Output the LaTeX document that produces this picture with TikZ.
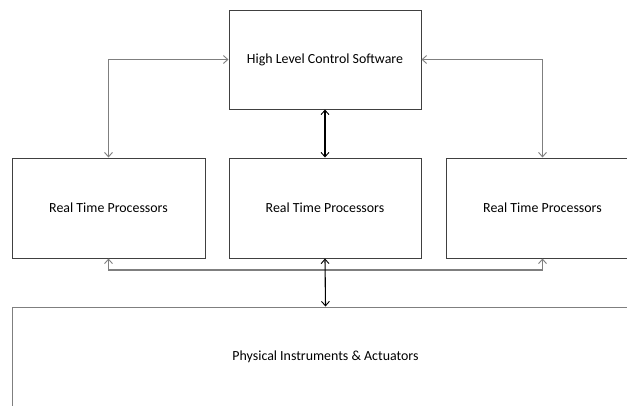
\documentclass[tikz,border=0pt]{standalone}
\usepackage{fontspec}
\setmainfont{Carlito}
\usetikzlibrary{arrows.meta}
\definecolor{boxline}{HTML}{404040}
\definecolor{conn}{HTML}{7F7F7F}
\tikzset{
  blk/.style={draw=boxline, line width=1pt, fill=white, inner sep=0pt, font=\fontsize{13.9}{15}\selectfont},
  tip/.tip={Straight Barb[length=4.5pt,width=8pt,line width=0.9pt]},
  gconn/.style={draw=conn, line width=1.4pt, arrows={-tip}},
  kconn/.style={draw=black, line width=1.1pt, arrows={tip-tip}},
  gboth/.style={draw=conn, line width=1.4pt, arrows={tip-tip}}
}
\begin{document}
\begin{tikzpicture}[x=1pt,y=-1pt]
\useasboundingbox (0,0) rectangle (627,405);
\clip (0,0) rectangle (627,405);
\node[blk, minimum width=192pt, minimum height=99pt] (hlc) at (325,59.5) {High Level Control Software};
\node[blk, minimum width=193pt, minimum height=100pt] (rtp1) at (108.5,208) {Real Time Processors};
\node[blk, minimum width=192pt, minimum height=100pt] (rtp2) at (325,208) {Real Time Processors};
\node[blk, minimum width=193pt, minimum height=100pt] (rtp3) at (542.5,208) {Real Time Processors};
\node[blk, draw=conn, minimum width=627pt, minimum height=100pt] (phys) at (325.5,357) {Physical Instruments \& Actuators};
\coordinate (j) at (325,270);
\draw[gboth] (hlc.west) -| (rtp1.north);
\draw[gboth] (hlc.east) -| (rtp3.north);
\draw[kconn] (hlc.south) -- (rtp2.north);
\draw[gconn] (j) -| (rtp1.south);
\draw[gconn] (j) -| (rtp3.south);
\draw[kconn] (rtp2.south) -- (phys.north);
\end{tikzpicture}
\end{document}
